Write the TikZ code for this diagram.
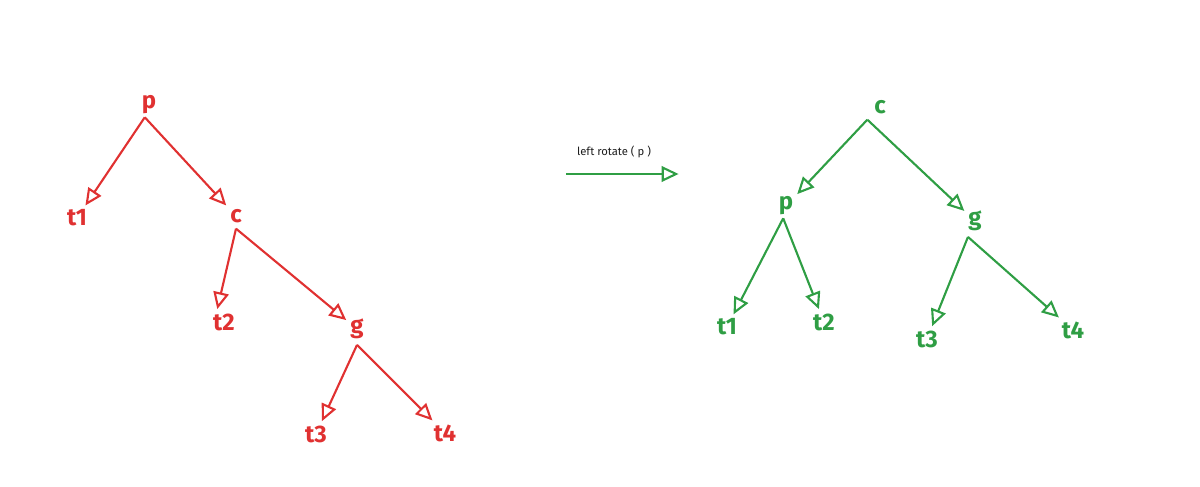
\documentclass[tikz,border=0pt]{standalone}
\usepackage{fontspec}
\setmainfont{Fira Sans}
\usetikzlibrary{arrows.meta}
\definecolor{xred}{HTML}{E03131}
\definecolor{xgreen}{HTML}{2F9E44}
\definecolor{xink}{HTML}{1E1E1E}
\tikzset{
  key/.style={inner sep=2pt, font=\fontsize{17}{20}\selectfont\bfseries},
  redkey/.style={key, text=xred},
  greenkey/.style={key, text=xgreen},
  link/.style={line width=1.5pt, -{Triangle[open,length=12pt,width=11pt]}, shorten >=1pt},
}
\begin{document}
\begin{tikzpicture}[x=0.025cm,y=-0.025cm]
    \useasboundingbox (0,0) rectangle (1200,486);

    % Before the rotation
    \node[redkey] (p) at (149,105) {p};
    \node[redkey] (t1) at (77,218) {t1};
    \node[redkey] (c) at (236,216) {c};
    \node[redkey] (t2) at (224,322) {t2};
    \node[redkey] (g) at (357,329) {g};
    \node[redkey] (t3) at (316,434) {t3};
    \node[redkey] (t4) at (445,433) {t4};

    \draw[link, xred] ([xshift=-3pt]p.south) -- (t1);
    \draw[link, xred] ([xshift=-3pt]p.south) -- (c);
    \draw[link, xred] ([yshift=-2pt]c.south) -- ([xshift=-5pt]t2.north);
    \draw[link, xred] ([yshift=-2pt]c.south) -- (g);
    \draw[link, xred] ([yshift=-2pt]g.south) -- (t3);
    \draw[link, xred] ([yshift=-2pt]g.south) -- (t4);

    % Rotation step
    \coordinate (from) at (566,174);
    \coordinate (to) at (680,174);
    \node[text=xink, font=\fontsize{8}{10}\selectfont] (step) at (614,152) {left rotate ( p )};
    \draw[link, xgreen] (from) -- (to);

    % After the rotation
    \node[greenkey] (c') at (880,107) {c};
    \node[greenkey] (p') at (786,206) {p};
    \node[greenkey] (g') at (975,221) {g};
    \node[greenkey] (t1') at (727,327) {t1};
    \node[greenkey] (t2') at (824,322) {t2};
    \node[greenkey] (t3') at (927,339) {t3};
    \node[greenkey] (t4') at (1073,330) {t4};

    \draw[link, xgreen] ([xshift=-9pt,yshift=-2pt]c'.south) -- (p');
    \draw[link, xgreen] ([xshift=-9pt,yshift=-2pt]c'.south) -- (g');
    \draw[link, xgreen] ([xshift=-2pt]p'.south) -- (t1');
    \draw[link, xgreen] ([xshift=-2pt]p'.south) -- (t2');
    \draw[link, xgreen] ([xshift=-5pt,yshift=-2pt]g'.south) -- (t3');
    \draw[link, xgreen] ([xshift=-5pt,yshift=-2pt]g'.south) -- (t4');
\end{tikzpicture}
\end{document}
